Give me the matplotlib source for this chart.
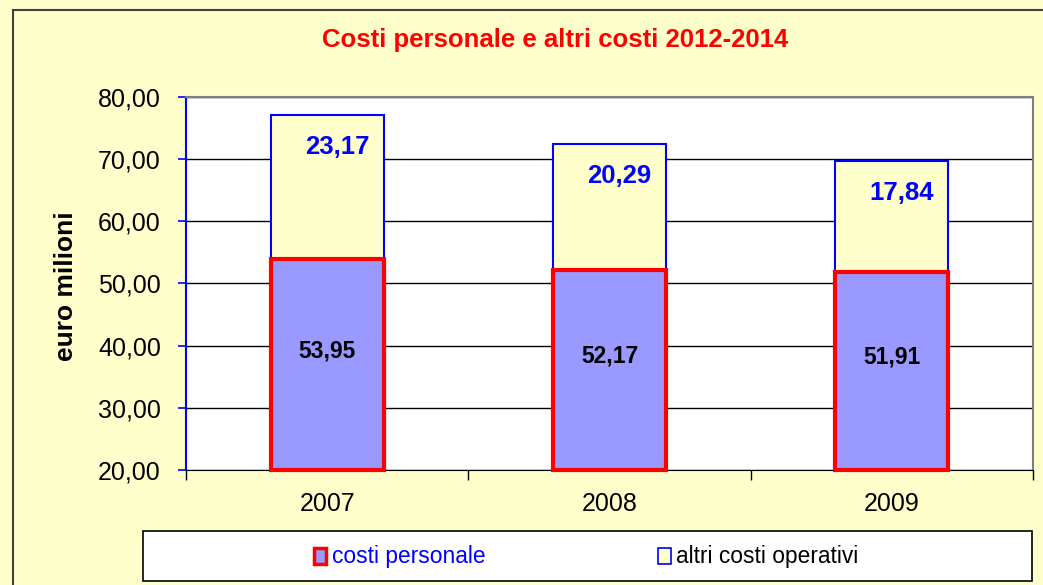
import numpy as np
import matplotlib
matplotlib.use("Agg")
import matplotlib.pyplot as plt
from matplotlib.patches import Rectangle, Patch
from matplotlib.ticker import FuncFormatter, MultipleLocator

plt.rcParams['font.family'] = ['Liberation Sans', 'DejaVu Sans']

# data
anni = ['2007', '2008', '2009']
costi_personale = [53.95, 52.17, 51.91]
altri_costi = [23.17, 20.29, 17.84]

bg = '#FFFFCC'
viola = '#9999FF'
rosso = '#FF0000'
blu = '#0000FF'

fig = plt.figure(figsize=(10.43, 5.85), dpi=100, facecolor=bg)
ax = fig.add_axes([0.1783, 0.1966, 0.8121, 0.6376])
ax.set_facecolor('white')

# outer chart frame
fig.patches.append(Rectangle((13 / 1043, -0.05), 1.1, 1 - 10 / 585 + 0.05,
                             transform=fig.transFigure, fill=False,
                             edgecolor='#404040', lw=1.5))

x = np.arange(len(anni))
ymin = 20
w = 0.40
pers = np.array(costi_personale)
altri = np.array(altri_costi)

b_altri = ax.bar(x, altri, w, bottom=pers, color=bg, edgecolor=blu, lw=1.5, zorder=3)
b_pers = ax.bar(x, pers - ymin, w, bottom=ymin, color=viola, edgecolor=rosso,
                lw=3, zorder=4, clip_on=False)

for i in range(len(anni)):
    ax.text(x[i], (ymin + pers[i]) / 2 + 2.2, f'{pers[i]:.2f}'.replace('.', ','),
            ha='center', va='center', fontsize=16.5, fontweight='bold', color='black', zorder=5)
    ax.text(x[i] + 0.035, pers[i] + altri[i] - 5.2, f'{altri[i]:.2f}'.replace('.', ','),
            ha='center', va='center', fontsize=18.5, fontweight='bold', color=blu, zorder=5)

ax.set_xlim(-0.5, 2.5)
ax.set_ylim(ymin, 80)
ax.yaxis.set_major_locator(MultipleLocator(10))
ax.yaxis.set_major_formatter(FuncFormatter(lambda v, p: f'{v:.2f}'.replace('.', ',')))
ax.grid(axis='y', color='black', lw=1, zorder=0)
ax.set_axisbelow(True)

ax.set_xticks(x)
ax.set_xticklabels(anni)
ax.xaxis.set_minor_locator(MultipleLocator(1, offset=0.5))
ax.tick_params(axis='x', which='major', length=0, labelsize=18, pad=16)
ax.tick_params(axis='x', which='minor', length=7, color='black', width=1)
ax.tick_params(axis='y', length=6, color=blu, width=1.2, labelsize=18, pad=12)

ax.spines['left'].set_color(blu)
ax.spines['left'].set_linewidth(1.5)
ax.spines['bottom'].set_color('black')
ax.spines['top'].set_color('#808080')
ax.spines['right'].set_color('#808080')
ax.spines['top'].set_linewidth(1.5)
ax.spines['right'].set_linewidth(1.5)

fig.text(555 / 1043, 1 - 40 / 585, 'Costi personale e altri costi 2012-2014',
         ha='center', va='center', fontsize=18.5, fontweight='bold', color=rosso)
fig.text(66 / 1043, 1 - 286 / 585, 'euro milioni', rotation=90, ha='center',
         va='center', fontsize=19, fontweight='bold', color='black')

# legend box
fig.patches.append(Rectangle((143 / 1043, 1 - 581 / 585), (1032 - 143) / 1043, 50 / 585,
                             transform=fig.transFigure, facecolor='white',
                             edgecolor='black', lw=1.2, zorder=1))
handles = [Patch(facecolor=viola, edgecolor=rosso, lw=2.5),
           Patch(facecolor=bg, edgecolor=blu, lw=1.2)]
leg = fig.legend(handles, ['costi personale', 'altri costi operativi'], ncol=2,
                 loc='center', bbox_to_anchor=(586 / 1043, 1 - 557 / 585),
                 frameon=False, fontsize=16.4, handlelength=0.57, handleheight=0.7,
                 handletextpad=0.22, columnspacing=7.6, borderpad=0, borderaxespad=0)
leg.get_texts()[0].set_color(blu)
leg.get_texts()[1].set_color('black')

fig.savefig('out.png', dpi=100, facecolor=bg)
